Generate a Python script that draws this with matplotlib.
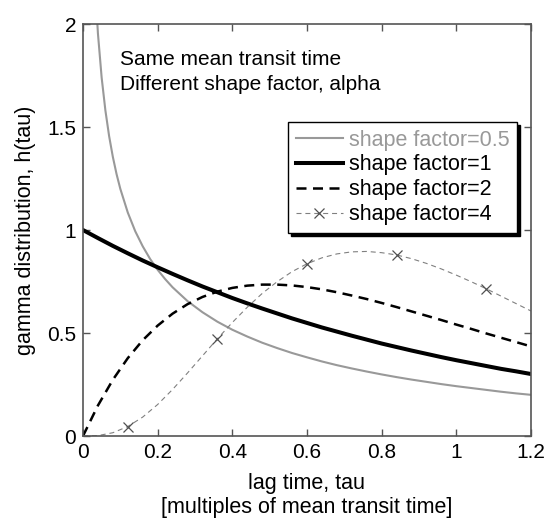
import matplotlib
matplotlib.use('Agg')
import matplotlib.pyplot as plt
from matplotlib.lines import Line2D

plt.rcParams['font.family'] = ['Liberation Sans', 'DejaVu Sans']

# lag time (multiples of mean transit time)
tau = [0.0, 0.04, 0.08, 0.12, 0.16, 0.2, 0.24, 0.28, 0.32, 0.36, 0.4,
       0.44, 0.48, 0.52, 0.56, 0.6, 0.64, 0.68, 0.72, 0.76, 0.8,
       0.84, 0.88, 0.92, 0.96, 1.0, 1.04, 1.08, 1.12, 1.16, 1.2]
# finer sampling near zero for the steep alpha=0.5 curve
tau_half = [0.01, 0.02, 0.03, 0.04, 0.05, 0.06, 0.07, 0.08, 0.09, 0.10,
            0.12, 0.14, 0.16, 0.18, 0.2, 0.22] + tau[6:]

# shape factor 0.5 (starts off the top of the axes)
h_05 = [3.970, 2.793, 2.270, 1.955, 1.740, 1.581, 1.456, 1.355, 1.271, 1.200,
        1.085, 0.994, 0.921, 0.859, 0.807, 0.762,
        0.722, 0.655, 0.601, 0.555, 0.516, 0.483, 0.453, 0.427, 0.403, 0.382,
        0.362, 0.344, 0.328, 0.313, 0.299, 0.286, 0.274, 0.263, 0.252, 0.242,
        0.233, 0.224, 0.215, 0.207, 0.200]
# shape factor 1
h_1 = [1.000, 0.961, 0.923, 0.887, 0.852, 0.819, 0.787, 0.756, 0.726, 0.698,
       0.670, 0.644, 0.619, 0.595, 0.571, 0.549, 0.527, 0.507, 0.487, 0.468,
       0.449, 0.432, 0.415, 0.399, 0.383, 0.368, 0.354, 0.340, 0.326, 0.314,
       0.301]
# shape factor 2
h_2 = [0.000, 0.148, 0.273, 0.378, 0.465, 0.536, 0.594, 0.640, 0.675, 0.701,
       0.719, 0.730, 0.735, 0.735, 0.731, 0.723, 0.712, 0.698, 0.682, 0.665,
       0.646, 0.626, 0.605, 0.584, 0.563, 0.541, 0.520, 0.498, 0.477, 0.456,
       0.435]
# shape factor 4
h_4 = [0.000, 0.002, 0.016, 0.046, 0.092, 0.153, 0.226, 0.306, 0.389, 0.472,
       0.551, 0.625, 0.692, 0.749, 0.798, 0.836, 0.865, 0.884, 0.894, 0.896,
       0.890, 0.879, 0.861, 0.838, 0.811, 0.781, 0.749, 0.715, 0.679, 0.643,
       0.607]

labels = ['shape factor=0.5', 'shape factor=1', 'shape factor=2', 'shape factor=4']

fig = plt.figure(figsize=(5.47, 5.2), dpi=100)
ax = fig.add_axes([0.1517, 0.1615, 0.8190, 0.7923])

gray = '#999999'
st_05 = dict(color=gray, lw=1.5)
st_1 = dict(color='black', lw=2.9)
st_2 = dict(color='black', lw=1.8, dashes=(4.0, 2.6))
st_4 = dict(color='#808080', lw=0.8, dashes=(4.5, 3.5),
            marker='x', ms=6.5, mec='#505050', mew=0.9)

ax.plot(tau_half, h_05, **st_05)
ax.plot(tau, h_1, **st_1)
ax.plot(tau, h_2, **st_2)
ax.plot(tau, h_4, markevery=(3, 6), **st_4)

ax.set_xlim(0, 1.2)
ax.set_ylim(0, 2)
ax.set_xticks([0, 0.2, 0.4, 0.6, 0.8, 1, 1.2])
ax.set_xticklabels(['0', '0.2', '0.4', '0.6', '0.8', '1', '1.2'])
ax.set_yticks([0, 0.5, 1, 1.5, 2])
ax.set_yticklabels(['0', '0.5', '1', '1.5', '2'])
ax.tick_params(direction='in', top=True, right=True, length=5, width=1,
               color='#555555', labelsize=15, pad=5)
for s in ax.spines.values():
    s.set_color('#555555')
    s.set_linewidth(1.2)

ax.set_xlabel('lag time, tau\n[multiples of mean transit time]', fontsize=15.5,
              labelpad=8)
ax.set_ylabel('gamma distribution, h(tau)', fontsize=15.5, labelpad=8)

ax.text(0.083, 0.9005, 'Same mean transit time', transform=ax.transAxes,
        fontsize=15, va='baseline')
ax.text(0.083, 0.8398, 'Different shape factor, alpha', transform=ax.transAxes,
        fontsize=15, va='baseline')

# proxy handles so the shape factor=4 entry shows one marker in the middle
handles = [Line2D([], [], **st_05), Line2D([], [], **st_1),
           Line2D([], [], **st_2), Line2D([], [], **st_4)]
leg = ax.legend(handles, labels, loc='upper right', bbox_to_anchor=(0.969, 0.762),
                borderaxespad=0, fontsize=15.5, handlelength=2.2,
                handletextpad=0.28, labelspacing=0.18, borderpad=0.35,
                fancybox=False, framealpha=1, edgecolor='black',
                shadow={'color': 'black', 'alpha': 1})
leg.get_frame().set_linewidth(1.0)
leg.get_texts()[0].set_color(gray)

fig.savefig('out.png', dpi=100)
